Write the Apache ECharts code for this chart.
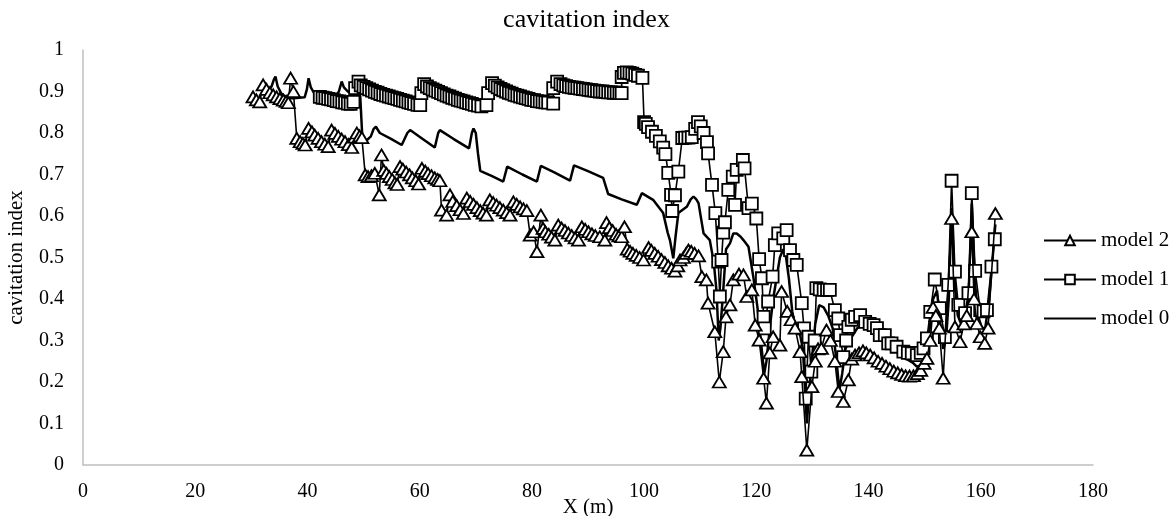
<!DOCTYPE html>
<html><head><meta charset="utf-8">
<script src="https://cdn.jsdelivr.net/npm/echarts@6/dist/echarts.min.js"></script>
<style>html,body{margin:0;padding:0;background:#fff}#c{width:1173px;height:516px}</style>
</head><body><div id="c"></div>
<script>
// [x (m), cavitation index]
const model2 = [[30.3,0.887],[30.9,0.880],[31.5,0.875],[32.1,0.916],[32.7,0.905],[33.3,0.897],[33.9,0.892],[34.5,0.887],[35.1,0.883],[35.7,0.879],[36.2,0.876],[36.6,0.873],[37.0,0.932],[37.5,0.900],
[38.1,0.787],[38.7,0.779],[39.2,0.775],[39.6,0.771],[40.2,0.811],[40.8,0.803],[41.3,0.795],[41.9,0.787],[42.5,0.779],[43.1,0.773],[43.7,0.767],[44.3,0.807],[44.9,0.799],[45.5,0.792],[46.1,0.785],[46.7,0.779],[47.3,0.772],[47.9,0.765],[48.4,0.790],[48.8,0.800],[49.3,0.793],[49.7,0.789],
[50.3,0.699],[50.8,0.695],[51.4,0.697],[52.0,0.703],[52.8,0.651],[53.2,0.747],[53.6,0.710],[54.1,0.703],[54.6,0.695],[55.1,0.688],[55.6,0.680],[56.0,0.676],[56.5,0.719],[57.0,0.713],[57.6,0.706],[58.2,0.699],[58.7,0.692],[59.3,0.685],[59.8,0.677],[60.4,0.715],[61.0,0.708],[61.5,0.702],[62.1,0.697],[62.7,0.692],[63.2,0.688],[63.6,0.685],
[63.9,0.614],[64.8,0.602],[65.4,0.651],[65.9,0.635],[66.6,0.625],[67.2,0.615],[67.8,0.606],[68.4,0.643],[69.0,0.635],[69.6,0.628],[70.2,0.620],[70.8,0.613],[71.3,0.607],[71.9,0.602],[72.5,0.639],[73.1,0.632],[73.7,0.626],[74.3,0.620],[74.9,0.614],[75.5,0.608],[76.1,0.602],[76.7,0.634],[77.3,0.628],[77.9,0.622],[78.5,0.617],[79.1,0.613],
[79.7,0.554],[80.3,0.562],[80.9,0.514],[81.6,0.602],[82.0,0.570],[82.4,0.562],[83.0,0.556],[83.5,0.549],[84.1,0.542],[84.7,0.578],[85.3,0.571],[85.9,0.565],[86.5,0.559],[87.1,0.553],[87.7,0.547],[88.3,0.542],[88.9,0.574],[89.5,0.568],[90.1,0.562],[90.7,0.557],[91.3,0.553],[92.1,0.550],[93.0,0.542],[93.3,0.584],[93.8,0.572],[94.4,0.565],[95.0,0.556],[95.5,0.552],[96.0,0.550],[96.5,0.574],
[97.0,0.520],[97.5,0.515],[98.0,0.510],[98.6,0.505],[99.2,0.500],[99.9,0.494],[100.8,0.524],[101.3,0.517],[101.9,0.510],[102.5,0.503],[103.1,0.495],[103.7,0.488],[104.3,0.480],[104.9,0.474],[105.5,0.467],[106.0,0.480],[106.4,0.494],[107.0,0.500],[107.5,0.510],[107.9,0.518],[108.4,0.515],[109.0,0.510],[109.7,0.504],
[110.3,0.454],[111.1,0.446],[111.4,0.390],[112.6,0.321],[113.4,0.200],[114.1,0.273],[114.6,0.357],[115.3,0.386],[115.9,0.446],[116.9,0.460],[117.7,0.458],[118.3,0.406],[119.2,0.422],[119.8,0.337],[120.5,0.301],[121.3,0.209],[121.8,0.149],[122.4,0.270],[123.0,0.309],[124.2,0.289],[124.5,0.418],[125.5,0.370],[126.2,0.350],[126.9,0.330],[127.8,0.273],[128.1,0.213],[129.0,0.036],[129.9,0.189],[130.5,0.250],[131.0,0.280],[131.6,0.281],[132.5,0.325],[133.2,0.300],[134.0,0.250],[134.6,0.177],[135.5,0.153],[136.4,0.205],
[137.0,0.255],[137.6,0.265],[138.3,0.270],[139.0,0.275],[139.6,0.270],[140.3,0.265],[141.0,0.258],[141.7,0.250],[142.4,0.245],[143.1,0.238],[143.8,0.232],[144.5,0.226],[145.2,0.222],[145.9,0.218],[146.6,0.215],[147.3,0.214],[148.0,0.215],[148.7,0.220],[149.3,0.228],[149.9,0.245],[150.4,0.257],[151.0,0.300],[151.5,0.380],[152.0,0.360],[152.6,0.330],[153.3,0.209],[154.8,0.594],[155.4,0.333],[156.3,0.297],[157.0,0.340],[157.5,0.360],[158.4,0.562],[158.8,0.400],[159.3,0.341],[159.9,0.309],[160.7,0.293],[161.3,0.330],[162.6,0.606]];

const model1 = [[42.2,0.887],[42.7,0.885],[43.2,0.884],[43.7,0.882],[44.2,0.881],[44.7,0.879],[45.2,0.877],[45.7,0.876],[46.2,0.874],[46.7,0.873],[47.2,0.871],[47.7,0.870],[48.2,0.875],[48.5,0.908],[49.1,0.924],
[49.5,0.915],[50.0,0.911],[50.5,0.908],[51.0,0.905],[51.5,0.902],[52.0,0.899],[52.5,0.897],[53.0,0.894],[53.5,0.892],[54.0,0.890],[54.5,0.888],[55.0,0.886],[55.5,0.884],[56.0,0.882],[56.5,0.880],[57.0,0.878],[57.5,0.876],[58.0,0.874],[58.5,0.872],[59.0,0.870],[59.6,0.868],[60.1,0.867],[60.3,0.896],[60.8,0.918],
[61.3,0.912],[61.8,0.908],[62.3,0.905],[62.8,0.902],[63.3,0.899],[63.8,0.896],[64.3,0.893],[64.8,0.890],[65.3,0.888],[65.8,0.885],[66.3,0.883],[66.8,0.880],[67.3,0.878],[67.8,0.876],[68.3,0.874],[68.8,0.872],[69.3,0.870],[69.8,0.868],[70.4,0.866],[71.0,0.864],[71.9,0.867],[72.2,0.896],[72.9,0.920],
[73.4,0.914],[73.9,0.910],[74.4,0.906],[74.9,0.903],[75.4,0.900],[75.9,0.897],[76.4,0.895],[76.9,0.892],[77.4,0.890],[77.9,0.888],[78.4,0.886],[78.9,0.884],[79.4,0.882],[79.9,0.880],[80.4,0.879],[80.9,0.877],[81.4,0.876],[81.9,0.875],[82.4,0.874],[82.9,0.873],[83.8,0.871],[83.8,0.908],[84.5,0.924],
[85.1,0.918],[85.6,0.915],[86.1,0.913],[86.6,0.911],[87.1,0.910],[87.6,0.909],[88.1,0.908],[88.6,0.907],[89.1,0.906],[89.6,0.905],[90.1,0.904],[90.6,0.903],[91.1,0.902],[91.6,0.901],[92.1,0.900],[92.6,0.900],[93.1,0.899],[93.6,0.898],[94.1,0.898],[94.6,0.897],[95.1,0.897],[95.6,0.896],[96.0,0.896],
[96.0,0.935],[96.4,0.945],[96.9,0.946],[97.4,0.945],[97.9,0.943],[98.4,0.940],[98.9,0.938],[99.7,0.933],
[100.0,0.826],[100.3,0.822],[100.7,0.814],[101.4,0.803],[102.1,0.793],[102.8,0.780],[103.4,0.765],[103.8,0.749],[104.3,0.704],[104.8,0.651],[105.0,0.612],[105.5,0.650],[106.1,0.707],[106.8,0.788],[107.3,0.789],[107.9,0.789],[108.5,0.790],[109.1,0.810],[109.6,0.826],[110.1,0.816],[110.6,0.800],[111.2,0.778],[111.4,0.751],[112.1,0.675],[112.7,0.607],
[113.2,0.490],[113.5,0.406],[113.8,0.494],[114.1,0.560],[114.4,0.585],[115.0,0.663],[115.8,0.695],[116.2,0.627],[116.5,0.711],[117.6,0.735],[117.9,0.715],[118.6,0.619],[119.2,0.630],[120.0,0.594],[120.5,0.496],[121.0,0.450],[121.3,0.357],[121.5,0.329],[122.1,0.394],[122.9,0.454],[123.3,0.530],[123.9,0.558],[124.8,0.546],[125.4,0.566],[126.0,0.518],[126.6,0.494],[127.2,0.482],[128.1,0.390],[128.5,0.329],[128.8,0.160],[129.3,0.309],[129.8,0.225],[130.4,0.300],[130.7,0.426],[131.3,0.423],[132.0,0.422],[132.6,0.422],[133.1,0.422],[134.0,0.373],[134.6,0.353],[134.9,0.313],[135.5,0.260],[136.0,0.300],[136.4,0.333],[137.0,0.350],[137.6,0.357],[138.5,0.361],[139.4,0.345],[140.2,0.340],[140.9,0.337],[141.5,0.330],[142.0,0.313],[142.9,0.313],[143.5,0.293],[144.1,0.293],[145.0,0.285],[146.2,0.273],[147.0,0.270],[147.7,0.269],[148.6,0.265],[149.3,0.270],[149.8,0.281],[150.4,0.305],[151.0,0.369],[151.8,0.447],[152.7,0.378],[153.6,0.308],[154.2,0.434],[154.8,0.685],[155.4,0.466],[156.0,0.386],[157.2,0.366],[157.8,0.414],[158.4,0.655],[159.0,0.468],[159.9,0.373],[160.5,0.370],[161.1,0.373],[161.9,0.478],[162.5,0.544]];

const model0 = [[33.0,0.905],[33.6,0.912],[34.0,0.928],[34.3,0.936],[34.7,0.912],[35.3,0.896],[36.0,0.888],[36.6,0.884],[37.5,0.884],[38.5,0.885],[39.5,0.886],[39.9,0.905],[40.2,0.932],[40.6,0.910],[41.2,0.896],[42.2,0.890],[43.5,0.888],[45.0,0.887],[45.6,0.900],[46.1,0.924],[46.5,0.910],[47.2,0.900],[48.0,0.895],[48.8,0.892],[49.4,0.890],[49.8,0.785],[50.6,0.783],[51.3,0.792],[51.8,0.810],[52.2,0.815],[52.9,0.800],[54.9,0.786],[56.8,0.771],[57.8,0.800],[58.3,0.807],[60.1,0.790],[62.7,0.765],[63.3,0.800],[63.6,0.807],[66.0,0.786],[68.8,0.763],[69.3,0.800],[69.6,0.811],[70.0,0.800],[70.4,0.750],[70.8,0.709],[72.9,0.696],[74.9,0.683],[75.6,0.719],[78.3,0.700],[80.9,0.683],[81.6,0.721],[84.0,0.705],[86.8,0.685],[87.5,0.722],[90.0,0.708],[92.7,0.692],[93.6,0.653],[96.0,0.640],[98.7,0.627],[99.6,0.655],[101.6,0.639],[103.4,0.607],[104.2,0.560],[104.6,0.542],[105.2,0.498],[105.6,0.550],[106.1,0.607],[107.6,0.622],[108.3,0.640],[108.8,0.647],[109.3,0.640],[109.7,0.631],[110.2,0.590],[110.6,0.558],[111.7,0.542],[112.4,0.490],[112.9,0.420],[113.3,0.300],[113.6,0.330],[114.1,0.420],[114.6,0.520],[115.3,0.534],[115.9,0.558],[116.5,0.558],[117.2,0.550],[117.7,0.542],[118.6,0.526],[119.5,0.450],[120.2,0.380],[120.8,0.300],[121.4,0.220],[121.8,0.250],[122.4,0.330],[123.0,0.400],[123.6,0.450],[124.2,0.500],[124.8,0.520],[125.3,0.500],[125.8,0.450],[126.4,0.370],[127.0,0.330],[127.7,0.320],[128.3,0.280],[129.0,0.100],[129.8,0.240],[130.5,0.340],[131.2,0.385],[132.0,0.380],[132.8,0.360],[133.6,0.330],[134.3,0.250],[134.8,0.180],[135.3,0.220],[135.9,0.280],[136.6,0.300],[137.3,0.315],[138.0,0.330],[138.7,0.335],[139.3,0.340],[140.0,0.330],[140.8,0.320],[141.6,0.310],[142.4,0.300],[143.2,0.290],[144.0,0.280],[144.8,0.275],[145.6,0.265],[146.4,0.258],[147.2,0.252],[148.0,0.245],[148.6,0.237],[149.2,0.240],[149.8,0.245],[150.3,0.270],[150.9,0.330],[151.5,0.400],[152.2,0.420],[152.7,0.350],[153.3,0.280],[153.8,0.300],[154.3,0.400],[154.8,0.620],[155.3,0.450],[155.9,0.360],[156.5,0.340],[157.2,0.360],[157.8,0.400],[158.4,0.630],[158.9,0.450],[159.5,0.360],[160.2,0.330],[160.8,0.330],[161.5,0.400],[162.0,0.480],[162.6,0.580]];

const seriesNames = ['model 2', 'model 1', 'model 0'];
const xRange = [0, 180, 20];
const yRange = [0, 1, 0.1];

const FONT = "'Liberation Serif', 'Times New Roman', serif";
const chart = echarts.init(document.getElementById('c'), null, {renderer: 'canvas'});
const markerStyle = {color: '#fff', borderColor: '#000', borderWidth: 1.8};
chart.setOption({
  animation: false,
  backgroundColor: '#fff',
  title: {
    text: 'cavitation index', left: 'center', top: 2,
    textStyle: {fontFamily: FONT, fontSize: 26, fontWeight: 'normal', color: '#000'}
  },
  grid: {left: 83, right: 80, top: 50, bottom: 51, containLabel: false, outerBoundsMode: 'none'},
  legend: {
    orient: 'vertical', left: 1038, top: 225,
    itemWidth: 52, itemHeight: 12, itemGap: 18,
    data: [
      {name: seriesNames[0]},
      {name: seriesNames[1]},
      {name: seriesNames[2], itemStyle: {color: 'rgba(0,0,0,0)', borderWidth: 0, opacity: 0}}
    ],
    textStyle: {fontFamily: FONT, fontSize: 21, color: '#000'}
  },
  xAxis: {
    type: 'value', min: xRange[0], max: xRange[1], interval: xRange[2],
    name: 'X (m)', nameLocation: 'middle', nameGap: 32, nameMoveOverlap: false,
    nameTextStyle: {fontFamily: FONT, fontSize: 21, color: '#000'},
    axisLine: {show: true, lineStyle: {color: '#bfbfbf', width: 1.5}},
    axisTick: {show: false}, splitLine: {show: false},
    axisLabel: {fontFamily: FONT, fontSize: 20, color: '#000', margin: 17}
  },
  yAxis: {
    type: 'value', min: yRange[0], max: yRange[1], interval: yRange[2],
    name: 'cavitation index', nameLocation: 'middle', nameGap: 56, nameMoveOverlap: false,
    nameTextStyle: {fontFamily: FONT, fontSize: 21, color: '#000'},
    axisLine: {show: true, lineStyle: {color: '#bfbfbf', width: 1.5}},
    axisTick: {show: false}, splitLine: {show: false},
    axisLabel: {fontFamily: FONT, fontSize: 20, color: '#000', margin: 19}
  },
  series: [
    {name: 'model 0', type: 'line', data: model0, symbol: 'none',
     lineStyle: {color: '#000', width: 2.5}, itemStyle: {color: '#000'}, z: 2},
    {name: 'model 1', type: 'line', data: model1, symbol: 'rect', symbolSize: 12,
     lineStyle: {color: '#000', width: 1.6}, itemStyle: markerStyle, z: 3},
    {name: 'model 2', type: 'line', data: model2, symbol: 'triangle', symbolSize: [13, 11],
     lineStyle: {color: '#000', width: 1.6}, itemStyle: markerStyle, z: 4}
  ]
});
</script></body></html>
